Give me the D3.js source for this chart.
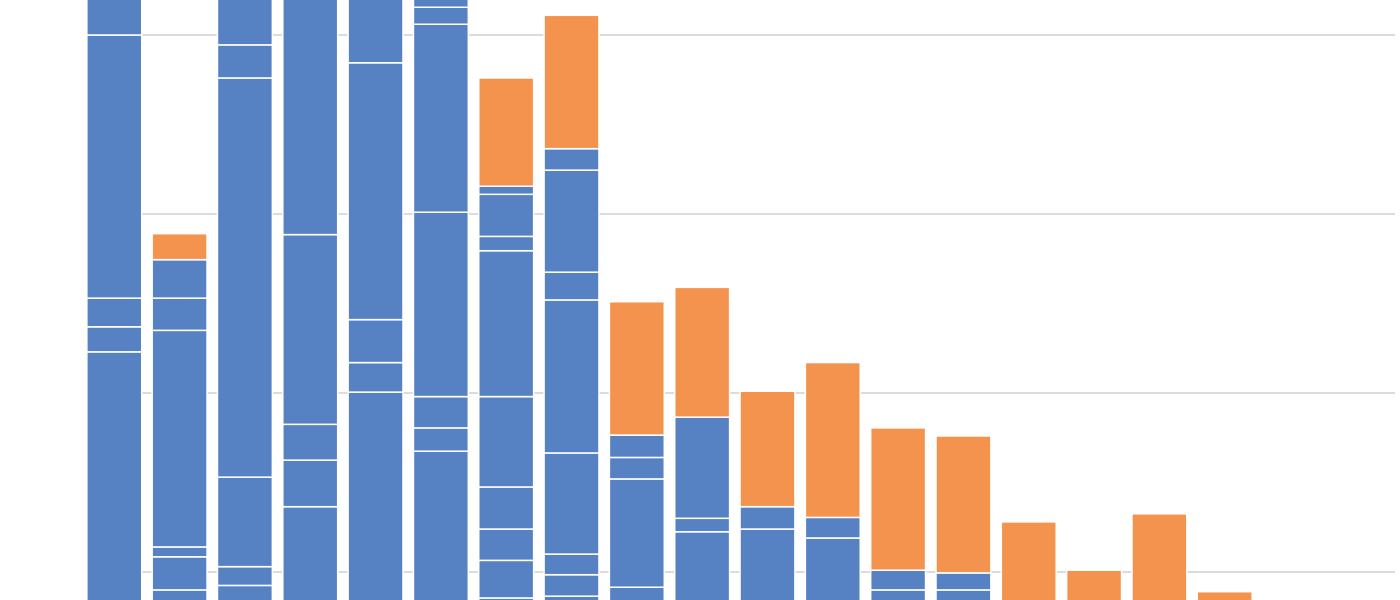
<!DOCTYPE html>
<html><head><meta charset="utf-8">
<script src="https://cdn.jsdelivr.net/npm/d3@7"></script>
<style>body{margin:0;background:#fff}</style></head>
<body><svg id="c" width="1400" height="600"></svg>
<script>
const categories = ["A","B","C","D","E","F","G","H","I","J","K","L","M","N","O","P","Q","R"];
const blueSegments = [
 [44.6,2.8,3.2,29.4,6.1],
 [18.0,3.7,1.1,24.2,3.6,4.3],
 [18.5,2.1,10.0,44.6,3.7,7.2],
 [27.3,5.2,4.0,21.2,28.4],
 [40.1,3.3,4.8,28.7,9.2],
 [33.5,2.6,3.5,20.6,21.0,1.9,3.0],
 [17.1,4.2,3.5,4.7,10.1,16.3,1.6,4.7,0.9],
 [17.3,2.4,2.3,11.3,17.1,3.1,11.4,2.4],
 [18.3,12.1,2.4,2.5],
 [24.5,1.5,11.3],
 [24.8,2.5],
 [23.8,2.3],
 [18.0,2.2],
 [18.0,1.9],
 [15],[15],[15],[15]
];
const orangeValues = [0,2.9,0,0,0,0,12.1,14.9,14.9,14.5,12.9,17.3,15.9,15.3,10.6,5.2,11.5,2.8];
const gridTicks = [20,40,60,80];

const svg = d3.select("#c");
const x = d3.scaleBand().domain(categories).range([79,1260]).paddingInner(0.16).paddingOuter(0.12);
const y = d3.scaleLinear().domain([0,80]).range([751,35]);

svg.append("g").selectAll("line").data(gridTicks).join("line")
 .attr("x1",95).attr("x2",1395).attr("y1",d=>y(d)).attr("y2",d=>y(d))
 .attr("stroke","#dcdcdc").attr("stroke-width",2);

categories.forEach((c,i)=>{
  let acc=0;
  const segs = blueSegments[i].map(v=>({v,color:"#5681c3"}));
  if(orangeValues[i]>0) segs.push({v:orangeValues[i],color:"#f4934e"});
  segs.forEach(s=>{
    svg.append("rect").attr("x",x(c)).attr("width",x.bandwidth())
      .attr("y",y(acc+s.v)).attr("height",y(acc)-y(acc+s.v))
      .attr("fill",s.color).attr("stroke","#fff").attr("stroke-width",1.5);
    acc+=s.v;
  });
});
</script></body></html>
